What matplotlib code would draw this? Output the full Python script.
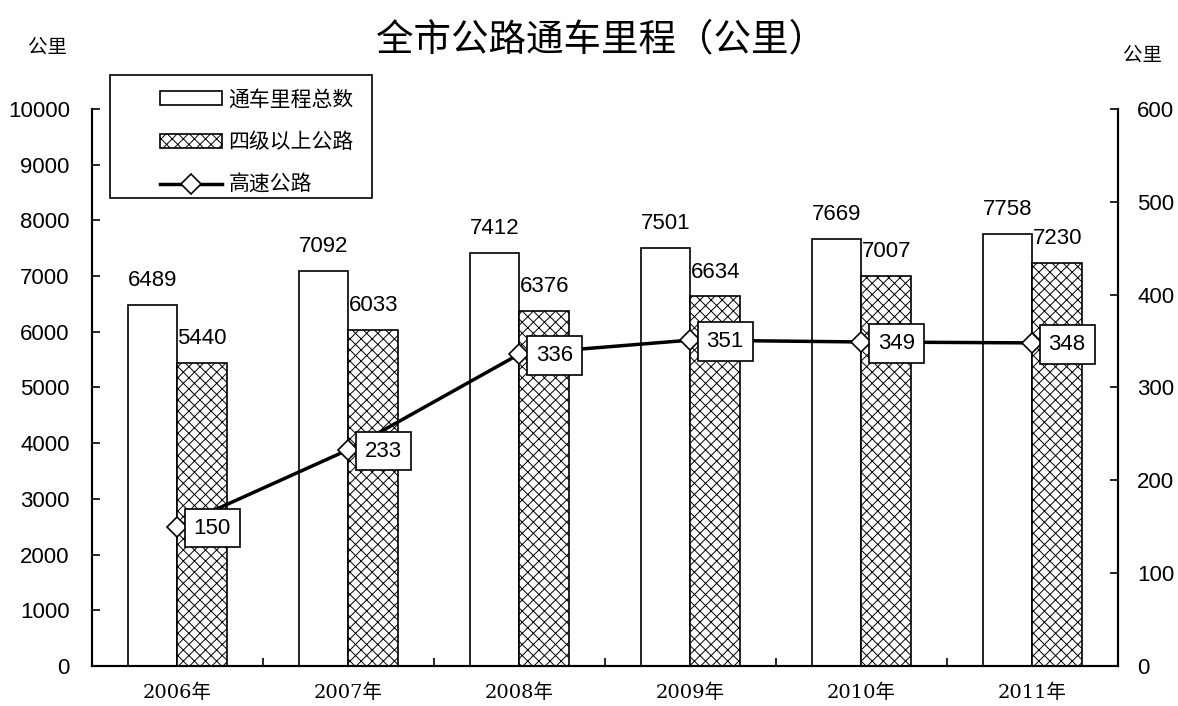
import matplotlib.pyplot as plt
from matplotlib.patches import Rectangle
import numpy as np

plt.rcParams['font.family'] = ['Liberation Sans', 'Noto Sans CJK SC', 'DejaVu Sans']
plt.rcParams['hatch.linewidth'] = 0.7

years = ['2006年', '2007年', '2008年', '2009年', '2010年', '2011年']
total = [6489, 7092, 7412, 7501, 7669, 7758]
grade4 = [5440, 6033, 6376, 6634, 7007, 7230]
highway = [150, 233, 336, 351, 349, 348]

fig = plt.figure(figsize=(11.78, 7.06), dpi=100)
ax = fig.add_axes([0.0781, 0.0567, 0.8709, 0.789])
ax2 = ax.twinx()

x = np.arange(len(years))
w = 0.29
b1 = ax.bar(x - w / 2, total, w, color='white', edgecolor='black', linewidth=1.2, label='通车里程总数')
b2 = ax.bar(x + w / 2, grade4, w, color='white', edgecolor='black', linewidth=1.2,
            hatch='xxx', label='四级以上公路')
for i in range(len(years)):
    ax.text(x[i] - w / 2, total[i] + 250, str(total[i]), ha='center', va='bottom', fontsize=16)
    ax.text(x[i] + w / 2, grade4[i] + 250, str(grade4[i]), ha='center', va='bottom', fontsize=16)

ln, = ax2.plot(x, highway, color='black', linewidth=2.5, marker='D', markersize=10,
               markerfacecolor='white', markeredgecolor='black', markeredgewidth=1.2, label='高速公路')
for i in range(len(years)):
    ax2.annotate(str(highway[i]), (x[i], highway[i]), xytext=(25, -1), textcoords='offset points',
                 ha='center', va='center', fontsize=16,
                 bbox=dict(boxstyle='square,pad=0.4', facecolor='white', edgecolor='black', linewidth=1.2))

ax.set_xlim(-0.5, 5.5)
ax.set_ylim(0, 10000)
ax.set_yticks(np.arange(0, 10001, 1000))
ax2.set_ylim(0, 600)
ax2.set_yticks(np.arange(0, 601, 100))
ax.set_xticks(x)
ax.set_xticklabels(years, family=['DejaVu Serif', 'Noto Sans CJK SC'], fontsize=14)
ax.set_xticks(np.arange(-0.5, 5.6, 1), minor=True)
ax.tick_params(axis='x', which='major', length=0, pad=13)
ax.tick_params(axis='x', which='minor', direction='in', length=6, width=1.2)
ax.tick_params(axis='y', direction='in', length=6, width=1.2, labelsize=16, pad=16)
ax2.tick_params(axis='y', direction='in', length=6, width=1.2, labelsize=16, pad=14)
for a in (ax, ax2):
    a.spines['top'].set_visible(False)
    for s in ('left', 'right', 'bottom'):
        a.spines[s].set_linewidth(1.5)

fig.text(0.51, 0.943, '全市公路通车里程（公里）', ha='center', va='center', fontsize=27,
         family=['Noto Sans CJK SC'], fontweight='medium')
fig.text(0.040, 0.933, '公里', ha='center', va='center', fontsize=14, family=['Noto Sans CJK SC'])
fig.text(0.970, 0.922, '公里', ha='center', va='center', fontsize=14, family=['Noto Sans CJK SC'])

# legend without its own frame, plus a wider box drawn round it
leg = ax2.legend(handles=[b1, b2, ln], loc='upper left', bbox_to_anchor=(0.066, 1.037),
                 borderaxespad=0, borderpad=0, frameon=False,
                 labelspacing=1.0, handlelength=3.0, handletextpad=0.3,
                 prop={'family': ['Noto Sans CJK SC'], 'size': 15})
fig.patches.append(Rectangle((0.0934, 0.7195), 0.2224, 0.1742, transform=fig.transFigure,
                             facecolor='none', edgecolor='black', linewidth=1.2))

plt.savefig('out.png', dpi=100)
